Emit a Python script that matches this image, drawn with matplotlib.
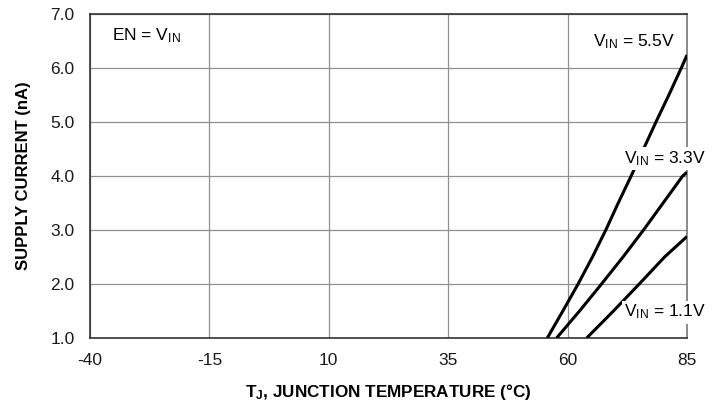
import matplotlib.pyplot as plt

plt.rcParams['font.family'] = ['Liberation Sans', 'DejaVu Sans']
plt.rcParams['mathtext.default'] = 'regular'

# Datos: temperatura (°C) vs corriente (nA)
t_55 = [55.75, 59.0, 62.2, 65.2, 68.0, 70.6, 73.3, 75.9, 78.5, 81.2, 83.8, 85.0]
i_55 = [1.0, 1.5, 2.0, 2.5, 3.0, 3.5, 4.0, 4.5, 5.0, 5.5, 6.0, 6.24]

t_33 = [57.7, 62.5, 67.1, 71.6, 75.9, 80.0, 84.1, 85.0]
i_33 = [1.0, 1.5, 2.0, 2.5, 3.0, 3.5, 4.0, 4.07]

t_11 = [64.0, 69.6, 75.0, 80.3, 85.0]
i_11 = [1.0, 1.5, 2.0, 2.5, 2.88]

x_ticks = [-40, -15, 10, 35, 60, 85]
y_ticks = [1.0, 2.0, 3.0, 4.0, 5.0, 6.0, 7.0]

fig = plt.figure(figsize=(7.25, 4.08), dpi=100)
ax = fig.add_axes([90 / 725, 1 - 338 / 408, 597 / 725, 324 / 408])

for t, i in [(t_55, i_55), (t_33, i_33), (t_11, i_11)]:
    ax.plot(t, i, color='black', lw=2.2, solid_capstyle='butt',
            solid_joinstyle='round', zorder=3)

ax.set_xlim(-40, 85)
ax.set_ylim(1.0, 7.0)
ax.set_xticks(x_ticks)
ax.set_yticks(y_ticks)
ax.set_xticklabels([str(v) for v in x_ticks])
ax.set_yticklabels(['%.1f' % v for v in y_ticks])
ax.tick_params(length=0, labelsize=12.5, pad=11, colors='#1a1a1a')
ax.grid(True, color='#909090', lw=0.9)
for s in ax.spines.values():
    s.set_color('#333333')
    s.set_linewidth(1.2)
ax.spines['right'].set_color('#777777')

ax.set_xlabel('$T_J$, JUNCTION TEMPERATURE (°C)', fontsize=12.3,
              fontweight='bold', labelpad=10)
ax.set_ylabel('SUPPLY CURRENT (nA)', fontsize=12, fontweight='bold',
              labelpad=14)

box = dict(facecolor='white', edgecolor='none', pad=1.5)
ax.text(-35.4, 6.59, 'EN = $V_{IN}$', fontsize=12.5, ha='left', va='center')
ax.text(82.5, 6.48, '$V_{IN}$ = 5.5V', fontsize=12.5, ha='right', va='center',
        bbox=box, zorder=4)
ax.text(89.0, 4.33, '$V_{IN}$ = 3.3V', fontsize=12.5, ha='right', va='center',
        bbox=box, zorder=4, clip_on=False)
ax.text(89.0, 1.48, '$V_{IN}$ = 1.1V', fontsize=12.5, ha='right', va='center',
        bbox=box, zorder=4, clip_on=False)

fig.savefig('out.png', dpi=100)
